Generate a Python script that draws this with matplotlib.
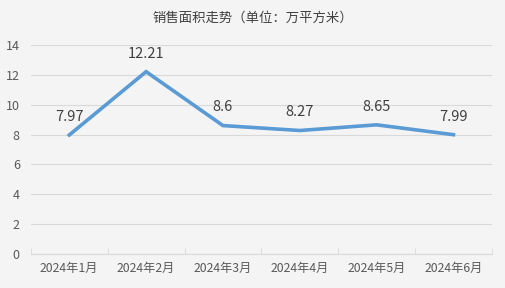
import matplotlib
matplotlib.use("Agg")
import matplotlib.pyplot as plt

plt.rcParams['font.family'] = ['Noto Sans CJK SC', 'DejaVu Sans']

categories = ["2024年1月", "2024年2月", "2024年3月", "2024年4月", "2024年5月", "2024年6月"]
values = [7.97, 12.21, 8.6, 8.27, 8.65, 7.99]
labels = ["7.97", "12.21", "8.6", "8.27", "8.65", "7.99"]
yticks = [0, 2, 4, 6, 8, 10, 12, 14]

bg = "#f4f4f4"
fig = plt.figure(figsize=(5.06, 2.88), dpi=100, facecolor=bg)
ax = fig.add_axes([0.061, 0.118, 0.911, 0.726], facecolor=bg)

x = list(range(len(categories)))
ax.plot(x, values, color="#5b9bd5", linewidth=2.6, solid_joinstyle="miter", zorder=3)
for xi, v, t in zip(x, values, labels):
    ax.annotate(t, (xi, v), xytext=(0, 8), textcoords="offset points",
                ha="center", va="bottom", fontsize=10.5, color="#404040")

ax.set_xlim(-0.5, len(categories) - 0.5)
ax.set_ylim(0, 14)
ax.set_yticks(yticks)
ax.set_yticklabels([str(t) for t in yticks], fontsize=9, color="#595959")
ax.set_xticks(x)
ax.set_xticklabels(categories, fontsize=8.8, color="#595959")
ax.tick_params(axis="x", length=0, pad=6)
ax.tick_params(axis="y", length=0, pad=8)
ax.set_xticks([i - 0.5 for i in range(len(categories) + 1)], minor=True)
ax.tick_params(axis="x", which="minor", length=4, color="#d9d9d9", direction="in")

ax.grid(axis="y", color="#d9d9d9", linewidth=0.8)
for s in ["top", "right", "left"]:
    ax.spines[s].set_visible(False)
ax.spines["bottom"].set_color("#d9d9d9")
ax.set_axisbelow(True)

fig.text(0.5, 0.94, "销售面积走势（单位：万平方米）", ha="center", va="center",
         fontsize=9.6, color="#404040")

fig.savefig("out.png", dpi=100, facecolor=bg)
